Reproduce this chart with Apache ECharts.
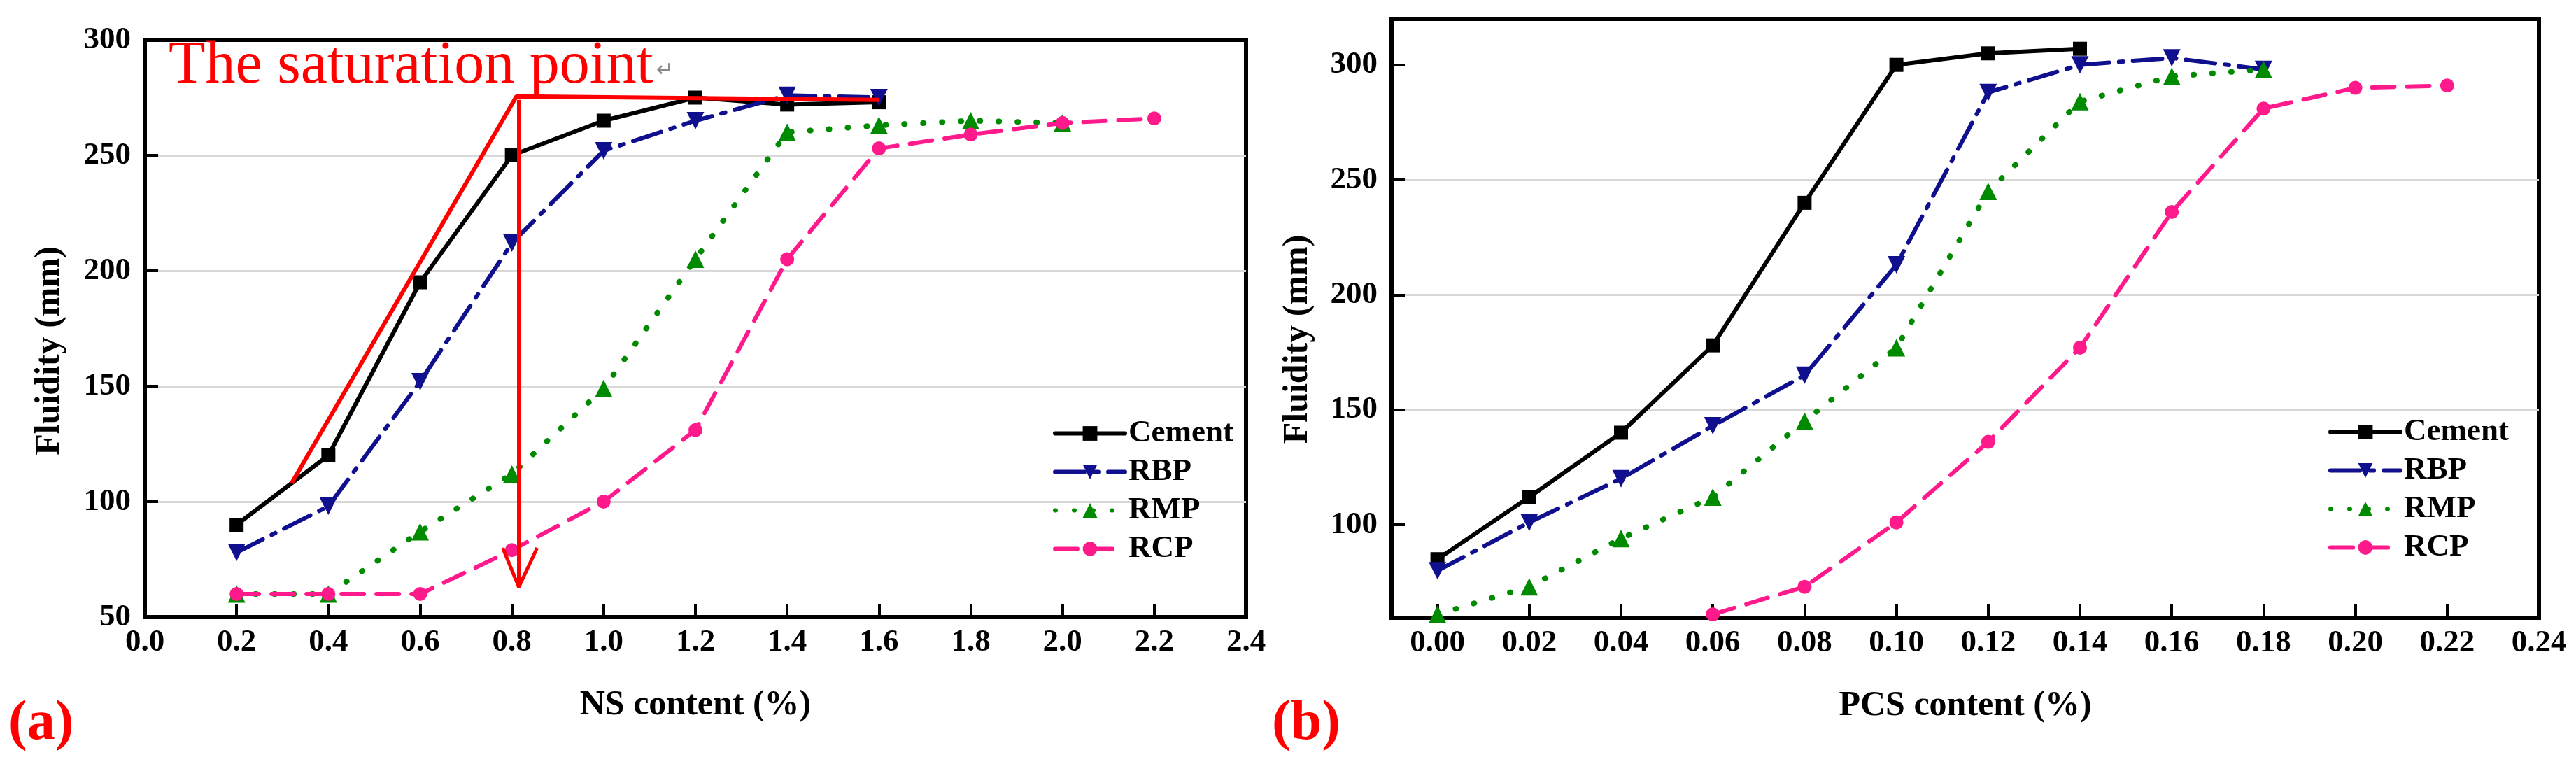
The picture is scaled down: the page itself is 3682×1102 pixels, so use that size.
<!DOCTYPE html>
<html>
<head>
<meta charset="utf-8">
<script src="https://cdn.jsdelivr.net/npm/echarts@6/dist/echarts.min.js"></script>
<style>
  html, body { margin: 0; padding: 0; background: #fff; }
  #main { width: 3682px; height: 1102px; }
</style>
</head>
<body>
<div id="main"></div>
<script type="text/javascript">
	// (a) NS content
	var nsX       = [0.2, 0.4, 0.6, 0.8, 1.0, 1.2, 1.4, 1.6, 1.8, 2.0, 2.2];
	var nsCement  = [90, 120, 195, 250, 265, 275, 272, 273];
	var nsRBP     = [78, 98, 152, 212, 252, 265, 276, 275];
	var nsRMP     = [60, 60, 87, 112, 149, 205, 260, 263, 265, 264];
	var nsRCP     = [60, 60, 60, 79, 100, 131, 205, 253, 259, 264, 266];

	// (b) PCS content
	var pcsX      = [0.00, 0.02, 0.04, 0.06, 0.08, 0.10, 0.12, 0.14, 0.16, 0.18, 0.20, 0.22];
	var pcsCement = [85, 112, 140, 178, 240, 300, 305, 307];
	var pcsRBP    = [80, 101, 120, 143, 165, 213, 288, 300, 303, 298];
	var pcsRMP    = [61, 73, 94, 112, 145, 177, 245, 284, 295, 298];
	var pcsRCP    = [61, 73, 101, 136, 177, 236, 281, 290, 291];   // starts at 0.06
	var pcsRCPStart = 3;

	// tick labels
	var pcsXTicks = [0.00, 0.02, 0.04, 0.06, 0.08, 0.10, 0.12, 0.14, 0.16, 0.18, 0.20, 0.22, 0.24];
	var pcsYTicks = [100, 150, 200, 250, 300];

	// saturation point annotation (data coords of panel a)
	var satX  = [0.32, 0.81, 1.60];
	var satY  = [108, 275.5, 274];
	var arrX  = [0.815, 0.815];
	var arrY  = [274, 63];
	var headX = [0.78, 0.815, 0.855];
	var headY = [80, 63, 80];

	var names = ['Cement', 'RBP', 'RMP', 'RCP'];

	function pairs(xs, ys, start) {
		start = start || 0;
		return ys.map(function (y, i) { return [xs[i + start], y]; });
	}

	var FONT = 'Liberation Serif';
	var styles = {
		Cement: { color: '#000000', type: 'solid',          width: 6, symbol: 'rect',     size: 20 },
		RBP:    { color: '#10108f', type: [42, 14, 6, 14],  width: 6, symbol: 'triangle', size: 25, rotate: 180 },
		RMP:    { color: '#008a00', type: [1, 26],          width: 8, symbol: 'triangle', size: 25 },
		RCP:    { color: '#ff1a8c', type: [32, 18],         width: 6, symbol: 'circle',   size: 20 }
	};

	function lineSeries(name, data, idx) {
		var s = styles[name];
		return {
			name: name,
			type: 'line',
			xAxisIndex: idx,
			yAxisIndex: idx,
			data: data,
			symbol: s.symbol,
			symbolSize: s.size,
			symbolRotate: s.rotate || 0,
			lineStyle: { color: s.color, width: s.width, type: s.type, cap: 'round' },
			itemStyle: { color: s.color },
			z: 3
		};
	}

	function redLine(data, width) {
		return {
			type: 'line',
			xAxisIndex: 0,
			yAxisIndex: 0,
			data: data,
			symbol: 'none',
			lineStyle: { color: '#ff0000', width: width },
			z: 5
		};
	}

	var tickLabel = { color: '#000', fontFamily: FONT, fontWeight: 'bold', fontSize: 45 };
	var nameStyle = { color: '#000', fontFamily: FONT, fontWeight: 'bold', fontSize: 50 };
	var legendText = { color: '#000', fontFamily: FONT, fontWeight: 'bold', fontSize: 45 };
	var gridLine = { show: true, showMinLine: false, showMaxLine: false, lineStyle: { color: '#d8d8d8', width: 3 } };

	var myChart = echarts.init(document.getElementById('main'));
	var option = {
		animation: false,
		backgroundColor: '#fff',
		grid: [
			{ left: 207, top: 57, width: 1574, height: 825, show: true, borderColor: '#000', borderWidth: 6 },
			{ left: 1989, top: 27, width: 1640, height: 856, show: true, borderColor: '#000', borderWidth: 6 }
		],
		xAxis: [
			{
				type: 'value', gridIndex: 0, min: 0, max: 2.4, interval: 0.2,
				name: 'NS content (%)', nameLocation: 'middle', nameGap: 101, nameTextStyle: nameStyle,
				axisLine: { onZero: false, lineStyle: { color: '#000', width: 6 } },
				axisTick: { inside: true, length: 19, lineStyle: { color: '#000', width: 4 } },
				axisLabel: Object.assign({ margin: 14, showMinLabel: true, showMaxLabel: true,
					formatter: function (v) { return v.toFixed(1); } }, tickLabel),
				splitLine: { show: false }
			},
			{
				type: 'value', gridIndex: 1, min: -0.01, max: 0.24,
				name: 'PCS content (%)', nameLocation: 'middle', nameGap: 101, nameTextStyle: nameStyle,
				axisLine: { onZero: false, lineStyle: { color: '#000', width: 6 } },
				axisTick: { inside: true, length: 19, customValues: pcsXTicks, lineStyle: { color: '#000', width: 4 } },
				axisLabel: Object.assign({ margin: 14, customValues: pcsXTicks,
					formatter: function (v) { return v.toFixed(2); } }, tickLabel),
				splitLine: { show: false }
			}
		],
		yAxis: [
			{
				type: 'value', gridIndex: 0, min: 50, max: 300, interval: 50,
				name: 'Fluidity (mm)', nameLocation: 'middle', nameGap: 111, nameRotate: 90,
				nameTextStyle: Object.assign({ padding: [0, 64, 0, 0] }, nameStyle),
				axisLine: { onZero: false, lineStyle: { color: '#000', width: 6 } },
				axisTick: { inside: true, length: 19, lineStyle: { color: '#000', width: 4 } },
				axisLabel: Object.assign({ margin: 20 }, tickLabel),
				splitLine: gridLine
			},
			{
				type: 'value', gridIndex: 1, min: 59.5, max: 320,
				name: 'Fluidity (mm)', nameLocation: 'middle', nameGap: 109, nameRotate: 90,
				nameTextStyle: Object.assign({ padding: [0, 60, 0, 0] }, nameStyle),
				axisLine: { onZero: false, lineStyle: { color: '#000', width: 6 } },
				axisTick: { inside: true, length: 19, customValues: pcsYTicks, lineStyle: { color: '#000', width: 4 } },
				axisLabel: Object.assign({ margin: 20, customValues: pcsYTicks }, tickLabel),
				splitLine: gridLine
			}
		],
		legend: [
			{
				data: names, orient: 'vertical', left: 1500, top: 592,
				itemWidth: 100, itemHeight: 26, itemGap: 10,
				lineStyle: { width: 6 },
				textStyle: legendText,
				selectedMode: false
			},
			{
				data: names, orient: 'vertical', left: 3323, top: 590,
				itemWidth: 100, itemHeight: 26, itemGap: 10,
				lineStyle: { width: 6 },
				textStyle: legendText,
				selectedMode: false
			}
		],
		series: [
			lineSeries('Cement', pairs(nsX, nsCement), 0),
			lineSeries('RBP', pairs(nsX, nsRBP), 0),
			lineSeries('RMP', pairs(nsX, nsRMP), 0),
			lineSeries('RCP', pairs(nsX, nsRCP), 0),
			lineSeries('Cement', pairs(pcsX, pcsCement), 1),
			lineSeries('RBP', pairs(pcsX, pcsRBP), 1),
			lineSeries('RMP', pairs(pcsX, pcsRMP), 1),
			lineSeries('RCP', pairs(pcsX, pcsRCP, pcsRCPStart), 1),
			redLine(pairs(satX, satY), 6),
			redLine(pairs(arrX, arrY), 5),
			redLine(pairs(headX, headY), 5)
		],
		graphic: [
			{ type: 'text', left: 241, top: 52, z: 10,
			  style: { text: 'The saturation point', fill: '#ff0000', font: '86px "Liberation Serif"' } },
			{ type: 'text', left: 938, top: 86, z: 10,
			  style: { text: '\u21B5', fill: '#8a8a8a', font: '30px "DejaVu Sans"' } },
			{ type: 'text', left: 12, top: 995, z: 10,
			  style: { text: '(a)', fill: '#ff0000', font: 'bold 80px "Liberation Serif"' } },
			{ type: 'text', left: 1818, top: 995, z: 10,
			  style: { text: '(b)', fill: '#ff0000', font: 'bold 80px "Liberation Serif"' } }
		]
	};
	myChart.setOption(option);
</script>
</body>
</html>
